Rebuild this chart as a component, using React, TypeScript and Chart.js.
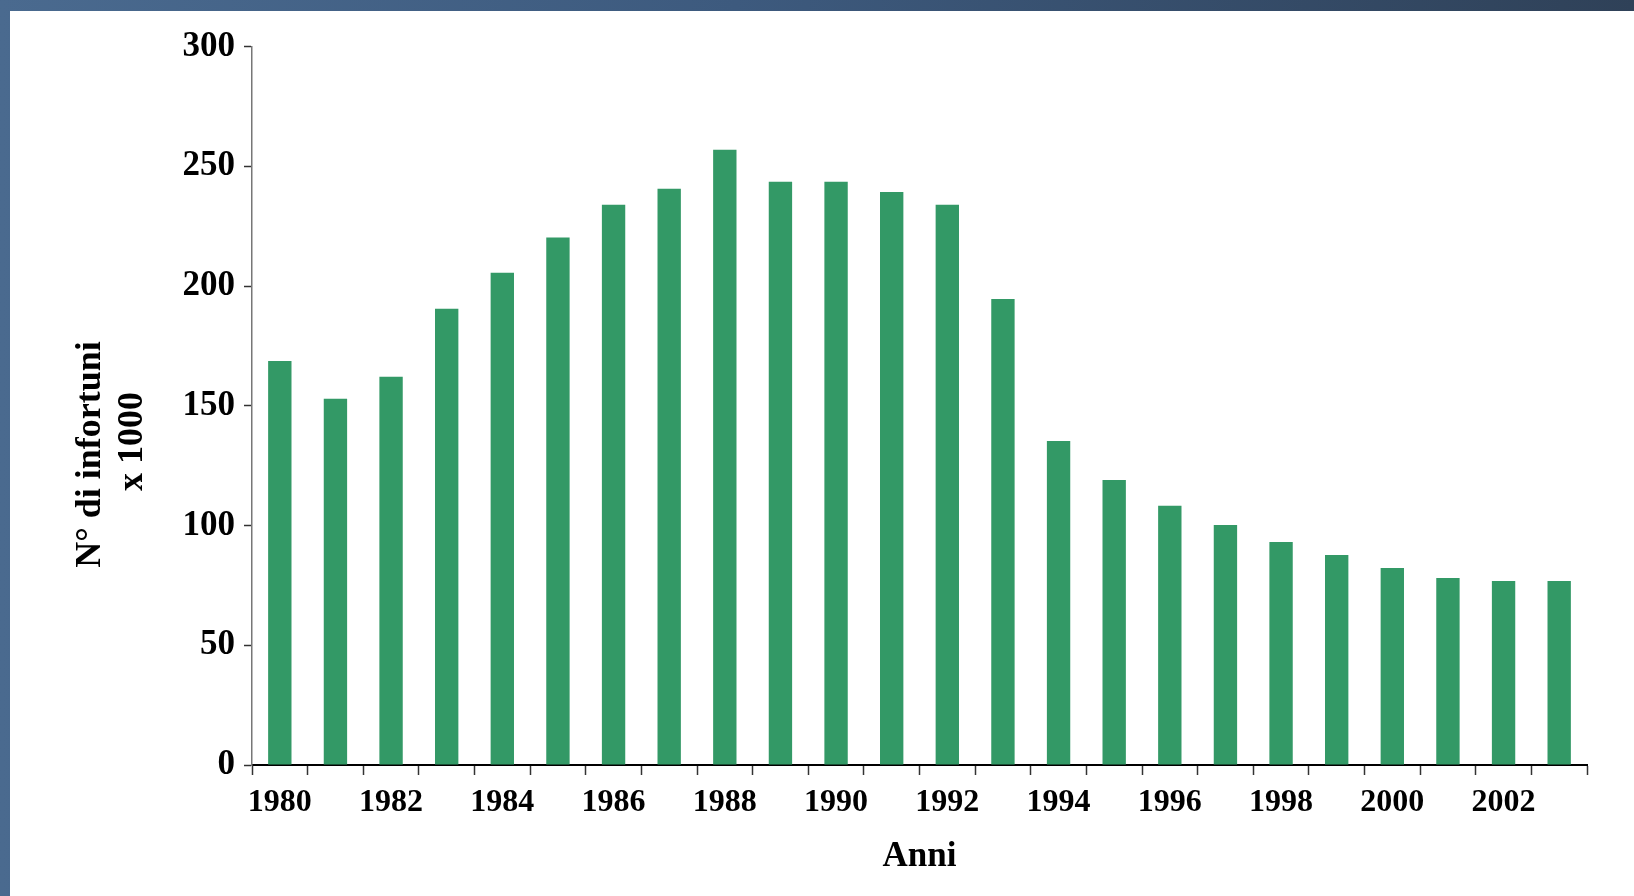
import React, { useEffect, useRef } from "react";
import { Chart, registerables } from "chart.js";

Chart.register(...registerables);

const years: string[] = [
  "1980", "1981", "1982", "1983", "1984", "1985", "1986", "1987", "1988", "1989", "1990", "1991",
  "1992", "1993", "1994", "1995", "1996", "1997", "1998", "1999", "2000", "2001", "2002", "2003",
];
const infortuni: number[] = [
  168.7, 152.9, 162.1, 190.5, 205.5, 220.3, 233.9, 240.6, 256.9, 243.5, 243.5, 239.3,
  233.9, 194.6, 135.3, 119.0, 108.2, 100.2, 93.1, 87.7, 82.3, 78.1, 76.8, 76.8,
];
const yTitleLines: string[] = ["N° di infortuni", "x 1000"];
const xTitle = "Anni";

const SERIF = '"Liberation Serif", "Times New Roman", serif';

export default function App() {
  const ref = useRef<HTMLCanvasElement | null>(null);

  useEffect(() => {
    document.body.style.margin = "0";
    const canvas = ref.current;
    if (!canvas) return;

    const yTitlePlugin = {
      id: "yTitlePlugin",
      afterDraw(chart: any) {
        const ctx = chart.ctx;
        ctx.save();
        ctx.fillStyle = "#000";
        ctx.font = `bold 36px ${SERIF}`;
        ctx.textAlign = "center";
        ctx.textBaseline = "alphabetic";
        const pos = [
          { x: 90, y: 443.5 },
          { x: 131.5, y: 430.5 },
        ];
        yTitleLines.forEach((t, i) => {
          ctx.save();
          ctx.translate(pos[i].x, pos[i].y);
          ctx.rotate(-Math.PI / 2);
          ctx.fillText(t, 0, 0);
          ctx.restore();
        });
        ctx.restore();
      },
    };

    const chart = new Chart(canvas, {
      type: "bar",
      data: {
        labels: years,
        datasets: [
          {
            data: infortuni,
            backgroundColor: "#339966",
            borderWidth: 0,
            barPercentage: 0.42,
            categoryPercentage: 1,
          },
        ],
      },
      options: {
        responsive: false,
        animation: false,
        devicePixelRatio: 1,
        layout: { padding: { left: 0, right: 47, top: 35.5, bottom: 0 } },
        plugins: {
          legend: { display: false },
          tooltip: { enabled: false },
          title: { display: false },
        },
        scales: {
          x: {
            offset: true,
            grid: {
              offset: true,
              drawOnChartArea: false,
              drawTicks: true,
              tickLength: 10,
              tickColor: "#333",
              tickWidth: 1.5,
            },
            border: { display: true, color: "#000", width: 2 },
            ticks: {
              autoSkip: false,
              maxRotation: 0,
              minRotation: 0,
              padding: 9,
              color: "#000",
              font: { family: SERIF, size: 32, weight: "bold" },
              callback: (_v: any, i: number) => (i % 2 === 0 ? years[i] : ""),
            },
            title: {
              display: true,
              text: xTitle,
              color: "#000",
              font: { family: SERIF, size: 35, weight: "bold" },
              padding: { top: 0, bottom: 18 },
            },
            afterFit: (scale: any) => {
              scale.height = 131;
            },
          },
          y: {
            min: 0,
            max: 300,
            grid: {
              drawOnChartArea: false,
              drawTicks: true,
              tickLength: 8,
              tickColor: "#333",
              tickWidth: 1.5,
            },
            border: { display: true, color: "#777", width: 1.5 },
            ticks: {
              stepSize: 50,
              padding: 9,
              color: "#000",
              font: { family: SERIF, size: 35, weight: "bold" },
            },
            afterFit: (scale: any) => {
              scale.width = 242;
            },
          },
        },
      },
      plugins: [yTitlePlugin],
    });

    return () => {
      chart.destroy();
    };
  }, []);

  return (
    <div
      style={{
        position: "relative",
        width: 1634,
        height: 896,
        overflow: "hidden",
        background: "linear-gradient(to right, #4a6a8f 0%, #3d5a7e 45%, #2f4158 100%)",
      }}
    >
      <div
        style={{
          position: "absolute",
          left: 10,
          top: 11,
          width: 1624,
          height: 885,
          background: "#fff",
        }}
      >
        <canvas ref={ref} width={1624} height={885} style={{ display: "block" }} />
      </div>
    </div>
  );
}
